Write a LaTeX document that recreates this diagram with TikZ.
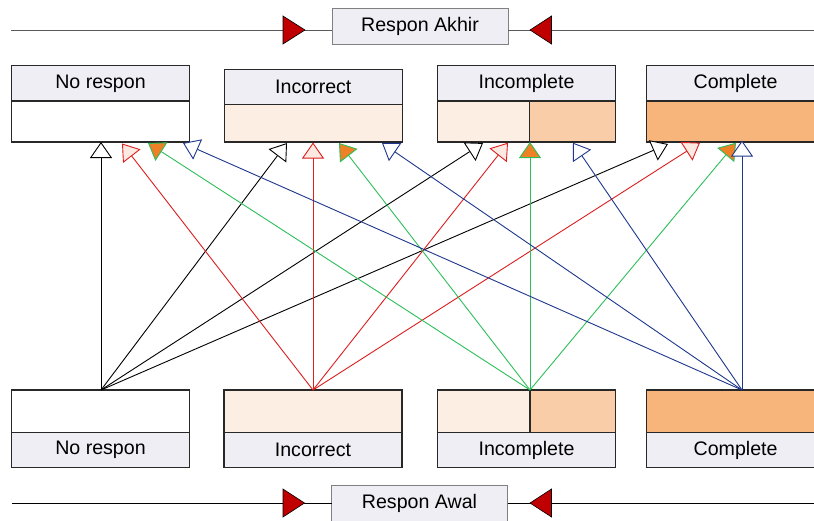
\documentclass[tikz,border=0pt]{standalone}
\usepackage{fontspec}
\setmainfont{Liberation Sans}
\usetikzlibrary{arrows.meta}
\definecolor{hdr}{RGB}{239,238,244}
\definecolor{peachA}{RGB}{253,238,227}
\definecolor{peachB}{RGB}{249,205,168}
\definecolor{peachC}{RGB}{247,181,124}
\definecolor{triRed}{RGB}{192,0,0}
\definecolor{cRed}{RGB}{220,30,30}
\definecolor{cGreen}{RGB}{45,190,90}
\definecolor{cBlue}{RGB}{30,55,140}
\definecolor{fillOrange}{RGB}{238,128,38}
\definecolor{fillRed}{RGB}{252,234,226}
\definecolor{edgeC}{RGB}{40,40,40}
\definecolor{lineGray}{RGB}{90,90,90}
\tikzset{
  lbl/.style={font=\fontsize{19.6}{22}\selectfont, text=black},
  hdrbox/.style={draw=edgeC, line width=1.1pt, fill=hdr, inner sep=0pt, outer sep=0pt, lbl},
  bodybox/.style={draw=edgeC, line width=1.1pt, inner sep=0pt, outer sep=0pt},
  titlebox/.style={draw=gray, line width=1pt, fill=hdr, inner sep=0pt, outer sep=0pt, lbl,
    minimum width=176pt, minimum height=35.5pt},
  tri/.style={fill=triRed, draw=black, line width=0.6pt},
  conn/.style={line width=0.9pt},
  arrK/.style={conn, draw=black, -{Triangle[length=16pt,width=22pt,fill=white]}},
  arrR/.style={conn, draw=cRed, -{Triangle[length=16pt,width=22pt,fill=fillRed]}},
  arrG/.style={conn, draw=cGreen, -{Triangle[length=16pt,width=22pt,fill=fillOrange]}},
  arrL/.style={conn, draw=cBlue, -{Triangle[length=16pt,width=22pt,fill=white]}},
}
\begin{document}
\begin{tikzpicture}[x=1pt,y=-1pt]
\useasboundingbox (0,0) rectangle (814,520);
\clip (0,0) rectangle (814,520);

% ---- top title ----
\node[titlebox] (akhir) at (420,26.4) {Respon Akhir};
\coordinate (akL) at (11,30);
\coordinate (akR) at (814,30);
\draw[lineGray, line width=1pt] (akL) -- (akL -| akhir.west);
\draw[lineGray, line width=1pt] (akR -| akhir.east) -- (akR);
\filldraw[tri] (283,16) -- (305,30) -- (283,44) -- cycle;
\filldraw[tri] (551.5,16) -- (530,30) -- (551.5,44) -- cycle;

% ---- bottom title ----
\node[titlebox] (awal) at (419.5,503.7) {Respon Awal};
\coordinate (awL) at (12,503);
\coordinate (awR) at (814,503);
\draw[black, line width=1pt] (awL) -- (awL -| awal.west);
\draw[black, line width=1pt] (awR -| awal.east) -- (awR);
\filldraw[tri] (283,489) -- (304.5,503) -- (283,517) -- cycle;
\filldraw[tri] (551.5,489) -- (530,503) -- (551.5,517) -- cycle;

% ---- top boxes ----
\node[hdrbox, minimum width=177.6pt, minimum height=35.3pt] (tNoH) at (100.5,83.35) {No respon};
\node[bodybox, fill=white, minimum width=177.6pt, minimum height=41pt] (tNoB) at (100.5,121.5) {};

\node[hdrbox, minimum width=178pt, minimum height=35pt] (tIcH) at (313.3,86.8) {Incorrect};
\node[bodybox, fill=peachA, minimum width=178pt, minimum height=37.7pt] (tIcB) at (313.3,123.15) {};

\node[hdrbox, minimum width=178.4pt, minimum height=35.3pt] (tIpH) at (526.5,83.35) {Incomplete};
\node[bodybox, fill=peachA, minimum width=92.2pt, minimum height=41pt] (tIpB1) at (483.4,121.5) {};
\node[bodybox, fill=peachB, minimum width=86.2pt, minimum height=41pt] (tIpB2) at (572.6,121.5) {};

\node[hdrbox, minimum width=177.8pt, minimum height=35.3pt] (tCoH) at (735.6,83.35) {Complete};
\node[bodybox, fill=peachC, minimum width=177.8pt, minimum height=41pt] (tCoB) at (735.6,121.5) {};

% ---- bottom boxes ----
\node[bodybox, fill=white, minimum width=177.6pt, minimum height=42.3pt] (bNoB) at (100.5,411.15) {};
\node[hdrbox, minimum width=177.6pt, minimum height=35.4pt] (bNoH) at (100.5,450) {No respon};

\node[bodybox, fill=peachA, minimum width=178pt, minimum height=42.3pt] (bIcB) at (313,411.15) {};
\node[hdrbox, minimum width=178pt, minimum height=35.4pt] (bIcH) at (313,450) {Incorrect};

\node[bodybox, fill=peachA, minimum width=92.7pt, minimum height=42.3pt] (bIpB1) at (483.65,411.15) {};
\node[bodybox, fill=peachB, minimum width=85.7pt, minimum height=42.3pt] (bIpB2) at (572.85,411.15) {};
\node[hdrbox, minimum width=178.4pt, minimum height=35.4pt] (bIpH) at (526.5,450) {Incomplete};

\node[bodybox, fill=peachC, minimum width=177.8pt, minimum height=42.3pt] (bCoB) at (735.6,411.15) {};
\node[hdrbox, minimum width=177.8pt, minimum height=35.4pt] (bCoH) at (735.6,450) {Complete};

% ---- connector end points ----
\coordinate (sNo) at (101,390);
\coordinate (sIc) at (313,390);
\coordinate (sIp) at (530,390);
\coordinate (sCo) at (742,390);

\coordinate (tNo1) at (101,142);
\coordinate (tNo2) at (122,143.5);
\coordinate (tNo3) at (148,143);
\coordinate (tNo4) at (183,143);
\coordinate (tIc1) at (287,143);
\coordinate (tIc2) at (313,142.5);
\coordinate (tIc3) at (339,143);
\coordinate (tIc4) at (382,143);
\coordinate (tIp1) at (483,143);
\coordinate (tIp2) at (508,142.7);
\coordinate (tIp3) at (530,142);
\coordinate (tIp4) at (573,142.7);
\coordinate (tCo1) at (668,144);
\coordinate (tCo2) at (700,142.7);
\coordinate (tCo3) at (736,142.7);
\coordinate (tCo4) at (742,140.5);

% ---- connectors ----
\foreach \t in {tNo1,tIc1,tIp1,tCo1} \draw[arrK] (sNo) -- (\t);
\foreach \t in {tNo2,tIc2,tIp2,tCo2} \draw[arrR] (sIc) -- (\t);
\foreach \t in {tNo3,tIc3,tIp3,tCo3} \draw[arrG] (sIp) -- (\t);
\foreach \t in {tNo4,tIc4,tIp4,tCo4} \draw[arrL] (sCo) -- (\t);
\end{tikzpicture}
\end{document}
